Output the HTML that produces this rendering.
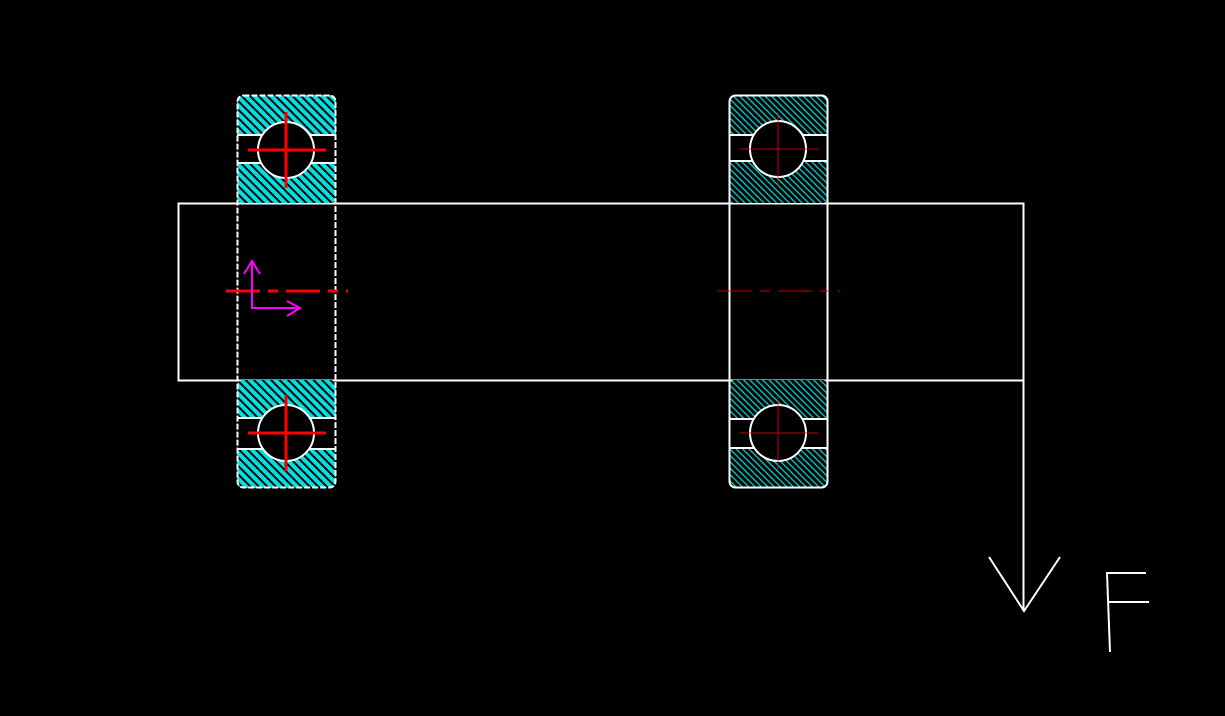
<!DOCTYPE html>
<html><head><style>html,body{margin:0;padding:0;background:#000}svg{display:block}</style></head>
<body>
<svg width="1225" height="716" viewBox="0 0 1225 716" xmlns="http://www.w3.org/2000/svg">
<defs>
<pattern id="hl" width="6" height="6" patternUnits="userSpaceOnUse" patternTransform="rotate(-45)">
<rect width="6" height="6" fill="#00e0e0"/><rect width="2" height="6" fill="#000"/>
</pattern>
<pattern id="hr" width="4.5" height="4.5" patternUnits="userSpaceOnUse" patternTransform="rotate(-45)">
<rect width="4.5" height="4.5" fill="#000"/><rect width="1.3" height="4.5" fill="#00d0d0"/>
</pattern>
</defs>
<rect width="1225" height="716" fill="#000"/>
<rect x="178.5" y="203.5" width="845" height="177" fill="none" stroke="#fff" stroke-width="2"/>

<g>
<rect x="237" y="95" width="99" height="108" rx="6" fill="url(#hl)"/>
<rect x="237" y="380" width="99" height="108" rx="6" fill="url(#hl)"/>
<rect x="237" y="135" width="99" height="28" fill="#000"/>
<rect x="237" y="418" width="99" height="31" fill="#000"/>
<line x1="237" y1="135" x2="336" y2="135" stroke="#fff" stroke-width="2"/>
<line x1="237" y1="163" x2="336" y2="163" stroke="#fff" stroke-width="2"/>
<line x1="237" y1="418" x2="336" y2="418" stroke="#fff" stroke-width="2"/>
<line x1="237" y1="449" x2="336" y2="449" stroke="#fff" stroke-width="2"/>
<circle cx="286" cy="150" r="28" fill="#000" stroke="#fff" stroke-width="2"/>
<circle cx="286" cy="433" r="28" fill="#000" stroke="#fff" stroke-width="2"/>
<rect x="237.5" y="95.5" width="98" height="392" rx="6" fill="none" stroke="#fff" stroke-width="2" stroke-dasharray="6 2"/>
<g stroke="#ff0000" stroke-width="3">
<line x1="248" y1="150" x2="326" y2="150"/><line x1="286" y1="112" x2="286" y2="188"/>
<line x1="248" y1="433" x2="326" y2="433"/><line x1="286" y1="395" x2="286" y2="471"/>
<line x1="226" y1="291" x2="348" y2="291" stroke-dasharray="34 8 10 8"/>
</g>
<g stroke="#ff00ff" stroke-width="2" fill="none">
<polyline points="252,261 252,308 300,308"/>
<polyline points="244,274 252,261 260,274"/>
<polyline points="287,301 300,308 287,316"/>
</g>
</g>

<g>
<rect x="729" y="95" width="99" height="108" rx="6" fill="url(#hr)"/>
<rect x="729" y="380" width="99" height="108" rx="6" fill="url(#hr)"/>
<rect x="729" y="135" width="99" height="26" fill="#000"/>
<rect x="729" y="419" width="99" height="29" fill="#000"/>
<line x1="729" y1="135" x2="828" y2="135" stroke="#fff" stroke-width="2"/>
<line x1="729" y1="161" x2="828" y2="161" stroke="#fff" stroke-width="2"/>
<line x1="729" y1="419" x2="828" y2="419" stroke="#fff" stroke-width="2"/>
<line x1="729" y1="448" x2="828" y2="448" stroke="#fff" stroke-width="2"/>
<circle cx="778" cy="149" r="28" fill="#000" stroke="#fff" stroke-width="2"/>
<circle cx="778" cy="433" r="28" fill="#000" stroke="#fff" stroke-width="2"/>
<rect x="729.5" y="95.5" width="98" height="392" rx="6" fill="none" stroke="#fff" stroke-width="2"/>
<g stroke="#ff0000" stroke-width="1" opacity="0.8">
<line x1="740" y1="149" x2="818" y2="149"/><line x1="778" y1="112" x2="778" y2="186"/>
<line x1="740" y1="433" x2="818" y2="433"/><line x1="778" y1="396" x2="778" y2="470"/>
<line x1="718" y1="291" x2="840" y2="291" stroke-dasharray="34 8 10 8"/>
</g>
</g>

<g stroke="#fff" stroke-width="2" fill="none">
<line x1="1023.5" y1="380" x2="1023.5" y2="611"/>
<polyline points="989,557 1024,611 1060,557"/>
<polyline points="1146,573 1107,573 1110,652"/>
<line x1="1108" y1="602" x2="1149" y2="602"/>
</g>
</svg>
</body></html>
